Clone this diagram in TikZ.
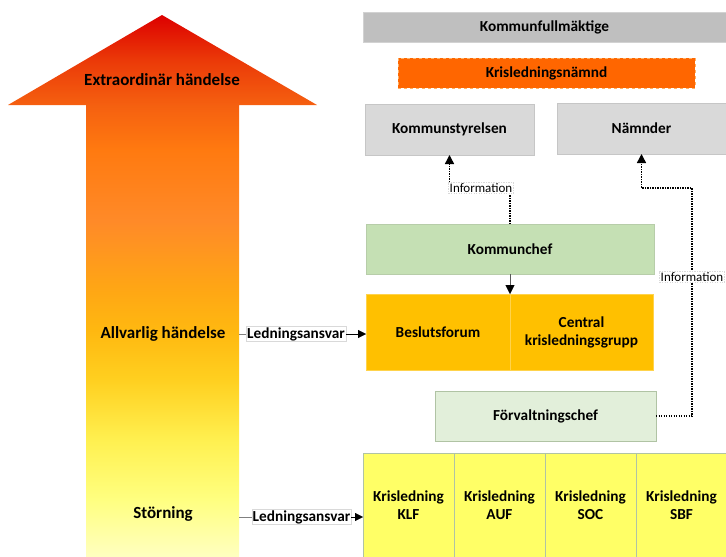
\documentclass[tikz,border=0pt]{standalone}
\usepackage{fontspec}
\setmainfont{Carlito}
\usetikzlibrary{positioning,arrows.meta}

\definecolor{alarmA}{HTML}{DD0000}
\definecolor{alarmB}{HTML}{EB3A08}
\definecolor{alarmC}{HTML}{F56010}
\definecolor{alarmD}{HTML}{FF7A10}
\definecolor{alarmE}{HTML}{FF8A28}
\definecolor{alarmF}{HTML}{FFA515}
\definecolor{alarmG}{HTML}{FFB810}
\definecolor{alarmH}{HTML}{FFD020}
\definecolor{alarmI}{HTML}{FFF050}
\definecolor{alarmJ}{HTML}{FFFF80}
\definecolor{alarmK}{HTML}{FFFFC0}
\definecolor{kgrey}{HTML}{BFBFBF}
\definecolor{kgreylight}{HTML}{D9D9D9}
\definecolor{korange}{HTML}{FF6600}
\definecolor{kgreen}{HTML}{C5E0B4}
\definecolor{kgreenlight}{HTML}{E2EFDA}
\definecolor{kgold}{HTML}{FFC000}
\definecolor{kyellow}{HTML}{FFFF66}

\pgfdeclareverticalshading{alarmshade}{100bp}{color(0bp)=(alarmK); color(25bp)=(alarmK);
  color(30.3bp)=(alarmJ); color(35.8bp)=(alarmI); color(41.3bp)=(alarmH);
  color(45.9bp)=(alarmG); color(50bp)=(alarmF); color(56bp)=(alarmE);
  color(62.5bp)=(alarmD); color(66.7bp)=(alarmC); color(70.8bp)=(alarmB);
  color(75bp)=(alarmA); color(100bp)=(alarmA)}

\tikzset{
  orgbox/.style={rectangle, inner sep=0pt, outer sep=0pt, align=center,
    font=\bfseries\fontsize{15.3}{18}\selectfont},
  greybox/.style={orgbox, fill=kgreylight, draw=gray!45},
  levellabel/.style={font=\bfseries\fontsize{17}{20}\selectfont},
  respbox/.style={fill=white, draw=gray!30, inner sep=1pt,
    font=\bfseries\fontsize{15.3}{18}\selectfont},
  infobox/.style={fill=white, draw=gray!30, inner sep=1.2pt,
    font=\fontsize{13}{15}\selectfont},
  info/.style={line width=1.4pt, dash pattern=on 1.4pt off 1.1pt,
    -{Triangle[length=9pt,width=9pt]}},
  resp/.style={-{Triangle[length=8pt,width=8pt]}},
}

\begin{document}
\begin{tikzpicture}[x=1pt,y=-1pt]
    \useasboundingbox (0,0) rectangle (726,557);
    % rising arrow
    \shade[shading=alarmshade] (162,15) -- (317,105) -- (239,105) -- (239,557)
        -- (86,557) -- (86,105) -- (8,105) -- cycle;
    \node[levellabel] (extra) at (162,80) {Extraordinär händelse};
    \node[levellabel] (allvarlig) at (163,334) {Allvarlig händelse};
    \node[levellabel] (storning) at (163,514) {Störning};
    \coordinate (edge1) at (239,334);
    \coordinate (edge2) at (239,517);

    % political level
    \node[orgbox, fill=kgrey, draw=gray!35, minimum width=363, minimum height=30]
        (kf) at (544.5,27) {Kommunfullmäktige};
    \node[orgbox, fill=korange, draw=orange!60, dashed, minimum width=297, minimum height=30]
        (kln) at (546.5,73) {Krisledningsnämnd};
    \node[greybox, minimum width=169, minimum height=51] (ks) at (449.5,129.5) {Kommunstyrelsen};
    \node[greybox, minimum width=169, minimum height=51] (nam) at (641.5,128.5) {Nämnder};

    % central management
    \node[orgbox, fill=kgreen, draw=kgreen!80!gray, minimum width=288, minimum height=50]
        (kc) at (510,249) {Kommunchef};
    \node[orgbox, fill=kgold, draw=kgold!70!white, minimum width=144, minimum height=76]
        (bf) at (438,332) {Beslutsforum};
    \node[orgbox, fill=kgold, draw=kgold!70!white, minimum width=143, minimum height=76]
        (ckg) at (581.5,332) {Central\\krisledningsgrupp};
    \node[orgbox, fill=kgreenlight, draw=kgreen!70!gray, minimum width=221, minimum height=50]
        (fc) at (545.5,416) {Förvaltningschef};

    % administrations
    \foreach \unit/\cx in {KLF/408.5, AUF/499.5, SOC/590.5, SBF/681.5}
        \node[orgbox, fill=kyellow, draw=kgreen!70!gray, minimum width=91, minimum height=104]
            (kl\unit) at (\cx,505) {Krisledning\\\unit};

    % connectors
    \draw[info] (kc.north) |- (481,188) node[infobox] (info1) {Information} -| (ks.south);
    \draw[info] (fc.east) -| (692,277) node[infobox] (info2) {Information}
        |- (nam.south |- 0,188) -- (nam.south);
    \draw[resp, gray!70!black, -{Triangle[length=9pt,width=9pt,black]}] (kc.south) -- (bf.north east);

    \node[respbox] (resp1) at (296,334) {Ledningsansvar};
    \node[respbox] (resp2) at (301.5,517) {Ledningsansvar};
    \draw[gray] (edge1) -- (resp1);
    \draw[resp] (resp1) -- (resp1 -| bf.west);
    \draw[gray] (edge2) -- (resp2);
    \draw[resp] (resp2) -- (resp2 -| klKLF.west);
\end{tikzpicture}
\end{document}
